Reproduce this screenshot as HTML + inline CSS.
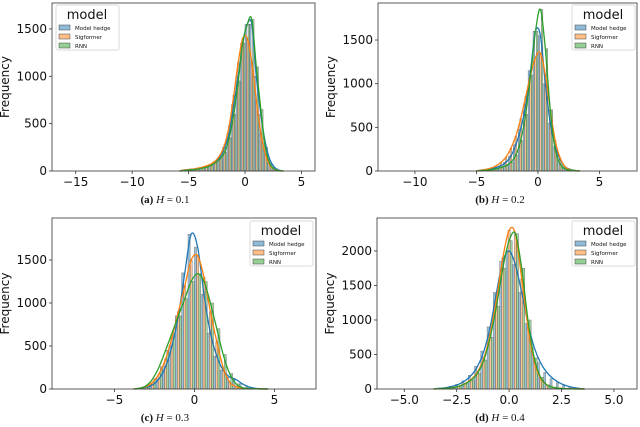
<!DOCTYPE html>
<html><head><meta charset="utf-8"><style>
body{margin:0;background:#fff;width:640px;height:427px;overflow:hidden}
svg{display:block}
text{font-family:"DejaVu Sans","Liberation Sans",sans-serif}
.cap{font-family:"Liberation Serif",serif;font-size:11px}
</style></head><body>
<svg id="chart" width="640" height="427"></svg>
<script>
// Panel (a) H=0.1
const binsA = [-5.4,-5.0,-4.6,-4.2,-3.8,-3.4,-3.0,-2.6,-2.2,-1.8,-1.4,-1.0,-0.6,-0.2,0.2,0.6,1.0,1.4,1.8,2.2,2.6,3.0];
const hedgeA = [10,15,20,25,35,50,70,100,150,250,400,700,1000,1350,1550,1550,1000,600,300,120,40,10];
const sigA = [10,15,20,30,40,55,75,110,170,280,480,800,1150,1400,1400,1150,750,400,180,60,20,5];
const rnnA = [5,10,15,20,30,40,60,90,130,200,350,600,950,1350,1550,1600,1100,650,250,80,20,5];
const xticksA = [-15,-10,-5,0,5];
const yticksA = [0,500,1000,1500];
// Panel (b) H=0.2
const binsB = [-4.6,-4.2,-3.8,-3.4,-3.0,-2.6,-2.2,-1.8,-1.4,-1.0,-0.6,-0.2,0.2,0.6,1.0,1.4,1.8,2.2,2.6,3.0];
const hedgeB = [10,15,25,40,60,100,170,300,480,750,1150,1600,1550,1000,550,280,130,50,20,5];
const sigB = [10,20,35,60,100,160,260,400,600,850,1100,1300,1350,1100,700,350,150,50,15,5];
const rnnB = [5,10,15,25,40,60,100,180,350,650,1100,1600,1850,1400,700,250,80,25,10,5];
const xticksB = [-10,-5,0,5];
const yticksB = [0,500,1000,1500];
// Panel (c) H=0.3
const binsC = [-3.4,-3.0,-2.6,-2.2,-1.8,-1.4,-1.0,-0.6,-0.2,0.2,0.6,1.0,1.4,1.8,2.2,2.6,3.0,3.4,3.8,4.2];
const hedgeC = [10,20,50,120,260,500,850,1350,1800,1650,1100,650,380,220,140,110,60,25,8,3];
const sigC = [10,30,80,180,350,600,900,1200,1500,1550,1300,900,550,250,80,30,10,5,3,1];
const rnnC = [10,40,120,260,450,650,850,1050,1250,1340,1250,1000,700,400,180,60,15,5,3,1];
const xticksC = [-5,0,5];
const yticksC = [0,500,1000,1500];
// Panel (d) H=0.4
const binsD = [-3.3,-3.0,-2.7,-2.4,-2.1,-1.8,-1.5,-1.2,-0.9,-0.6,-0.3,0.0,0.3,0.6,0.9,1.2,1.5,1.8,2.1,2.4,2.7,3.0,3.3];
const hedgeD = [10,20,40,70,120,200,330,550,900,1400,1850,2000,1800,1400,950,600,380,240,150,90,50,25,10];
const sigD = [5,10,20,40,80,140,250,450,800,1300,1900,2300,2250,1600,900,400,150,60,25,10,5,3,1];
const rnnD = [5,10,20,40,75,130,230,420,750,1200,1750,2150,2250,1750,1000,450,170,60,25,10,5,3,1];
const xticksD = ["-5.0","-2.5","0.0","2.5","5.0"];
const yticksD = [0,500,1000,1500,2000];

const NS="http://www.w3.org/2000/svg";
const svg=document.getElementById('chart');
function mk(tag,attrs,parent){const e=document.createElementNS(NS,tag);for(const k in attrs)e.setAttribute(k,attrs[k]);(parent||svg).appendChild(e);return e;}
const colors=["#1f77b4","#ff7f0e","#2ca02c"];
const names=["Model hedge","Sigformer","RNN"];

const panels=[
 {id:"a",x0:52,x1:315,y0:3,y1:171,xmin:-17.1,xmax:6.2,ymax:1774,bins:binsA,series:[hedgeA,sigA,rnnA],xt:xticksA,yt:yticksA,leg:[56,5],cx:165},
 {id:"b",x0:378,x1:637,y0:3,y1:171,xmin:-13,xmax:8.05,ymax:1924,bins:binsB,series:[hedgeB,sigB,rnnB],xt:xticksB,yt:yticksB,leg:[572,5],cx:500},
 {id:"c",x0:52,x1:316,y0:218,y1:389,xmin:-8.9,xmax:7.6,ymax:1988,bins:binsC,series:[hedgeC,sigC,rnnC],xt:xticksC,yt:yticksC,leg:[250,221],cx:165},
 {id:"d",x0:377,x1:637,y0:218,y1:389,xmin:-6.3,xmax:6.1,ymax:2478,bins:binsD,series:[hedgeD,sigD,rnnD],xt:xticksD,yt:yticksD,leg:[572,221],cx:500}
];

panels.forEach(p=>{
 const g=mk('g',{});
 
 
 const sx=v=>p.x0+(v-p.xmin)/(p.xmax-p.xmin)*(p.x1-p.x0);
 const sy=v=>p.y1-v/p.ymax*(p.y1-p.y0);
 const bw=p.bins[1]-p.bins[0];
 p.bins.forEach((c,i)=>{
  p.series.forEach((s,k)=>{
   const l=sx(c-bw/2+k*bw/3), r=sx(c-bw/2+(k+1)*bw/3);
   const b=mk('rect',{x:l,y:sy(s[i]),width:Math.max(r-l,0.5),height:sy(0)-sy(s[i]),fill:colors[k],'fill-opacity':0.45,stroke:'#666','stroke-width':0.4},g);
   
   
  });
 });
 p.series.forEach((s,k)=>{
  const pts=[[p.bins[0]-bw,0]].concat(p.bins.map((c,i)=>[c,s[i]])).concat([[p.bins[p.bins.length-1]+bw,0]]).map(q=>[sx(q[0]),sy(q[1])]);
  let d='M'+pts[0][0]+','+pts[0][1];
  for(let i=0;i<pts.length-1;i++){
   const p0=pts[Math.max(i-1,0)],p1=pts[i],p2=pts[i+1],p3=pts[Math.min(i+2,pts.length-1)];
   d+=' C'+(p1[0]+(p2[0]-p0[0])/6)+','+(p1[1]+(p2[1]-p0[1])/6)+' '+(p2[0]-(p3[0]-p1[0])/6)+','+(p2[1]-(p3[1]-p1[1])/6)+' '+p2[0]+','+p2[1];
  }
  const c=mk('path',{d:d,fill:'none',stroke:colors[k],'stroke-width':1.3},g);
  
  
 });
 const fr=mk('rect',{x:p.x0,y:p.y0,width:p.x1-p.x0,height:p.y1-p.y0,fill:'none',stroke:'#333','stroke-width':0.8},g);
 
 
 p.xt.forEach(t=>{
  const x=sx(parseFloat(t));
  mk('line',{x1:x,x2:x,y1:p.y1,y2:p.y1+3,stroke:'#333','stroke-width':0.8},g);
  const tx=mk('text',{x:x,y:p.y1+15,'font-size':12,'text-anchor':'middle',fill:'#111'},g);
  tx.textContent=String(t).replace('-','\u2212');
  
  
 });
 p.yt.forEach(t=>{
  const y=sy(t);
  mk('line',{x1:p.x0-3,x2:p.x0,y1:y,y2:y,stroke:'#333','stroke-width':0.8},g);
  const tx=mk('text',{x:p.x0-5,y:y+4,'font-size':12,'text-anchor':'end',fill:'#111'},g);
  tx.textContent=t;
  
  
 });
 const yl=mk('text',{x:0,y:0,'font-size':12,'text-anchor':'middle',fill:'#111',transform:'translate('+(p.x0-43)+','+((p.y0+p.y1)/2)+') rotate(-90)'},g);
 yl.textContent='Frequency';
 
 
 const cap=mk('text',{x:p.cx,y:p.y1+32,'text-anchor':'middle',class:'cap',fill:'#111'},g);
 cap.innerHTML='<tspan font-weight="bold">('+p.id+')</tspan> <tspan font-style="italic">H</tspan> = 0.'+({a:1,b:2,c:3,d:4})[p.id];
 
 
 const lg=mk('g',{transform:'translate('+p.leg[0]+','+p.leg[1]+')'},g);
 
 
 mk('rect',{x:0,y:0,width:63,height:45,fill:'#fff','fill-opacity':0.85,stroke:'#ccc','stroke-width':0.7,rx:2},lg);
 const lt=mk('text',{x:31,y:14,'font-size':13,'text-anchor':'middle',fill:'#111'},lg);
 lt.textContent='model';
 names.forEach((n,k)=>{
  const e=mk('g',{},lg);
  
  
  mk('rect',{x:3,y:20+k*9,width:11,height:5,fill:colors[k],'fill-opacity':0.5,stroke:'#444','stroke-width':0.5},e);
  const t=mk('text',{x:19,y:25+k*9,'font-size':5.5,fill:'#111'},e);
  t.textContent=n;
 });
});
</script>
</body></html>
